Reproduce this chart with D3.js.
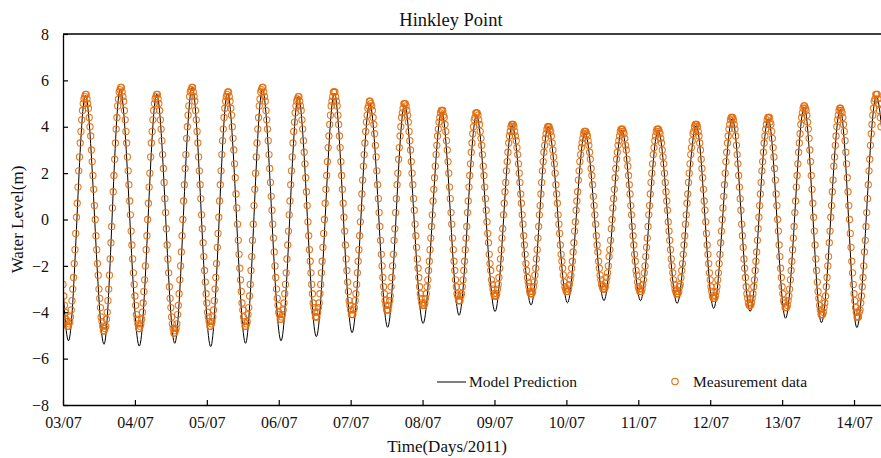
<!DOCTYPE html>
<html>
<head>
<meta charset="utf-8">
<script src="https://cdn.jsdelivr.net/npm/d3@7"></script>
<style>
  body { margin: 0; background: #ffffff; }
  svg text { font-family: "Liberation Serif", "Times New Roman", serif; fill: #111; }
</style>
</head>
<body>
<svg id="chart" width="881" height="458"></svg>
<script>
// Axis labels
const dayLabels = ["03/07","04/07","05/07","06/07","07/07","08/07","09/07","10/07","11/07","12/07","13/07","14/07"];
const levelTicks = [-8, -6, -4, -2, 0, 2, 4, 6, 8];

// Model prediction: successive low / high waters (hours after 03/07 00:00, metres)
const modelLowHours  = [-10.2, 1.84, 13.69, 25.47, 37.29, 49.30, 60.92, 72.77, 84.55, 96.47, 108.35, 120.17, 132.18, 144.20, 156.22, 168.37, 180.55, 192.74, 204.96, 217.14, 229.32, 241.14, 253.12, 264.94, 277.0];
const modelLowLevels = [-5.1, -5.23, -5.38, -5.46, -5.34, -5.48, -5.34, -5.23, -5.05, -4.88, -4.65, -4.48, -4.13, -3.97, -3.69, -3.59, -3.50, -3.50, -3.62, -3.83, -3.97, -4.26, -4.45, -4.66, -4.9];
const modelHighHours  = [-4.3, 7.48, 19.09, 31.28, 43.09, 54.91, 66.56, 78.54, 90.56, 102.38, 113.99, 126.38, 137.99, 149.9, 161.9, 174.2, 186.50, 198.61, 211.34, 223.36, 235.38, 247.39, 259.41, 271.43];
const modelHighLevels = [5.3, 5.35, 5.6, 5.4, 5.7, 5.45, 5.6, 5.3, 5.45, 5.0, 4.95, 4.65, 4.5, 4.05, 4.0, 3.75, 3.85, 3.85, 4.05, 4.35, 4.35, 4.85, 4.75, 5.3];

// Measured water level, decimetres, one reading every 15 minutes from 03/07 00:00
const measuredStepMinutes = 15;
const measuredDm = [
  -28,-33,-37,-40,-43,-44,-46,-46,
  -45,-44,-42,-39,-35,-30,-25,-19,-13,-6,1,7,14,21,27,33,38,43,47,50,52,53,54,
  54,52,50,48,44,40,36,30,25,19,13,6,0,-7,-13,-19,-24,-30,-34,-38,-42,-44,-46,-48,-48,
  -47,-46,-43,-40,-35,-30,-24,-17,-10,-3,5,12,19,26,33,39,44,49,52,55,56,57,
  57,55,53,51,47,43,38,33,27,21,15,8,2,-5,-11,-17,-23,-28,-33,-37,-41,-43,-45,-47,-47,
  -46,-45,-43,-40,-36,-31,-26,-20,-13,-7,0,7,14,20,27,33,38,43,47,50,52,53,54,
  54,52,50,47,43,39,34,28,22,16,9,3,-4,-11,-17,-23,-29,-34,-38,-42,-45,-47,-49,-49,
  -48,-47,-45,-41,-37,-32,-26,-20,-14,-7,0,8,15,22,28,35,40,45,49,53,55,56,57,
  57,55,53,51,47,43,38,33,27,21,15,9,2,-4,-10,-16,-22,-27,-32,-36,-40,-42,-44,-46,-46,
  -45,-44,-42,-39,-35,-30,-25,-19,-12,-6,1,8,15,21,28,34,39,44,48,51,53,54,55,
  55,53,51,48,45,40,35,30,24,18,11,5,-2,-9,-15,-21,-26,-31,-36,-39,-42,-44,-46,-46,
  -45,-44,-41,-38,-33,-28,-22,-16,-9,-2,6,13,20,27,33,39,44,49,52,55,56,57,
  57,55,53,51,47,43,39,34,28,22,16,10,4,-2,-8,-14,-20,-25,-30,-34,-37,-40,-41,-43,-43,
  -42,-41,-39,-36,-32,-28,-23,-17,-11,-5,2,8,15,21,27,33,38,42,46,49,51,52,53,
  53,51,49,47,43,39,34,29,24,18,12,6,-1,-7,-13,-18,-23,-28,-32,-36,-38,-40,-42,-42,
  -42,-40,-38,-36,-32,-28,-23,-18,-12,-6,0,7,13,19,25,31,36,41,45,49,51,53,55,55,
  55,53,51,49,45,41,36,31,25,19,13,7,1,-5,-11,-17,-22,-27,-31,-35,-37,-39,-41,-41,
  -41,-39,-38,-35,-32,-28,-23,-18,-13,-7,-1,5,11,17,23,28,33,38,42,45,48,49,51,51,
  50,49,47,44,41,37,32,27,21,15,9,3,-3,-9,-15,-20,-25,-29,-32,-35,-37,-39,-39,
  -39,-37,-35,-33,-29,-25,-20,-15,-9,-4,3,9,15,20,26,31,36,40,44,46,48,50,50,
  50,49,47,45,42,38,34,30,25,20,15,9,4,-2,-7,-12,-17,-21,-25,-29,-32,-34,-36,-37,-37,
  -37,-36,-34,-32,-29,-26,-22,-18,-13,-8,-3,2,8,13,18,23,28,32,36,39,42,44,46,47,47,
  47,45,44,41,38,34,30,25,20,14,9,3,-2,-8,-13,-18,-22,-26,-29,-32,-33,-35,-35,
  -35,-33,-32,-29,-26,-22,-18,-13,-8,-3,3,8,14,19,24,29,33,37,40,43,44,46,46,
  46,45,43,41,38,35,32,28,23,19,14,9,4,-1,-6,-10,-15,-19,-22,-26,-28,-30,-32,-33,-33,
  -33,-32,-30,-28,-25,-21,-17,-13,-8,-4,2,7,12,16,21,25,29,33,36,38,40,41,41,
  41,40,38,36,34,31,28,24,20,16,11,7,2,-2,-7,-11,-15,-19,-22,-25,-27,-29,-31,-32,-32,
  -32,-31,-29,-27,-24,-21,-17,-13,-8,-3,2,6,11,16,21,25,29,32,35,37,39,40,40,
  40,39,38,36,33,30,27,24,20,15,11,7,2,-2,-6,-11,-15,-18,-21,-24,-27,-29,-30,-31,-31,
  -31,-30,-28,-26,-24,-21,-18,-14,-10,-5,-1,4,8,12,17,21,25,28,31,33,35,37,38,38,
  38,37,36,34,32,29,26,22,19,15,10,6,2,-2,-7,-11,-14,-18,-21,-24,-26,-28,-29,-30,-30,
  -30,-29,-27,-25,-23,-20,-16,-13,-9,-4,0,5,9,13,18,22,26,29,32,34,36,38,39,39,
  39,38,37,35,32,30,26,23,19,15,11,6,2,-3,-7,-11,-15,-18,-22,-24,-27,-29,-30,-31,-31,
  -31,-30,-28,-26,-23,-20,-16,-12,-8,-3,2,6,11,16,20,24,28,31,34,36,38,39,39,
  39,38,37,35,33,30,27,24,20,16,12,8,4,-1,-5,-9,-13,-17,-20,-23,-26,-28,-30,-31,-32,-32,
  -32,-31,-29,-28,-25,-22,-19,-15,-11,-7,-2,2,7,11,16,20,24,28,31,34,37,38,40,41,41,
  41,40,38,36,33,30,26,22,18,13,8,4,-1,-6,-11,-15,-19,-23,-26,-29,-31,-33,-34,-34,
  -34,-33,-31,-29,-26,-23,-19,-15,-10,-5,0,5,10,15,20,25,29,33,36,39,41,43,44,44,
  44,43,41,39,36,32,28,24,19,14,9,4,-2,-7,-12,-17,-21,-25,-29,-32,-34,-36,-37,-37,
  -37,-36,-34,-32,-29,-26,-22,-18,-14,-9,-4,1,6,11,16,21,25,29,33,36,39,41,43,44,44,
  44,42,41,38,35,31,27,22,17,11,6,0,-5,-11,-16,-21,-25,-29,-32,-35,-36,-38,-38,
  -38,-37,-35,-33,-30,-26,-22,-18,-13,-8,-3,3,8,14,19,24,29,33,37,41,44,46,48,49,49,
  48,47,45,42,39,35,30,25,19,13,7,1,-5,-11,-17,-22,-27,-31,-34,-37,-39,-41,-41,
  -41,-40,-38,-36,-33,-29,-25,-20,-16,-10,-5,1,6,12,17,23,27,32,36,40,43,45,47,48,48,
  47,46,44,41,38,34,29,24,18,12,6,0,-6,-12,-18,-23,-28,-32,-35,-38,-40,-42,-42,
  -42,-40,-39,-36,-33,-29,-25,-20,-14,-9,-3,3,9,15,21,26,32,37,41,45,48,51,52,54,54,
  54,52,50,47,44,40
];

const svg = d3.select("#chart");
const margin = { left: 63, right: 0, top: 34, bottom: 53 };
const W = 881, H = 458;

const t0 = Date.UTC(2011, 6, 3);
const hourToDate = h => new Date(t0 + h * 3600e3);

const x = d3.scaleUtc()
  .domain([hourToDate(0), hourToDate(273)])
  .range([margin.left, W - margin.right]);
const y = d3.scaleLinear()
  .domain([-8, 8])
  .range([H - margin.bottom, margin.top]);

svg.append("defs").append("clipPath").attr("id", "plotClip")
  .append("rect")
  .attr("x", margin.left).attr("y", margin.top)
  .attr("width", W - margin.left - margin.right)
  .attr("height", H - margin.top - margin.bottom);

// Model series: lows and highs merged in time order
const model = [];
modelLowHours.forEach((h, i) => model.push({ h, v: modelLowLevels[i] }));
modelHighHours.forEach((h, i) => model.push({ h, v: modelHighLevels[i] }));
model.sort((a, b) => a.h - b.h);

// Measured series
const measured = measuredDm.map((dm, i) => ({
  h: i * measuredStepMinutes / 60,
  v: dm / 10
}));

const plot = svg.append("g").attr("clip-path", "url(#plotClip)");

plot.append("path")
  .datum(model)
  .attr("fill", "none")
  .attr("stroke", "#000")
  .attr("stroke-width", 1)
  .attr("d", d3.line()
    .x(d => x(hourToDate(d.h)))
    .y(d => y(d.v))
    .curve(d3.curveMonotoneX));

plot.append("g")
  .selectAll("circle")
  .data(measured)
  .join("circle")
  .attr("cx", d => x(hourToDate(d.h)))
  .attr("cy", d => y(d.v))
  .attr("r", 3.1)
  .attr("fill", "none")
  .attr("stroke", "#E46C0A")
  .attr("stroke-opacity", 0.9)
  .attr("stroke-width", 1.1);

// Axes
const dayTicks = dayLabels.map((_, i) => hourToDate(24 * i));
const xAxis = d3.axisBottom(x)
  .tickValues(dayTicks)
  .tickFormat((d, i) => dayLabels[i])
  .tickSizeInner(-5).tickSizeOuter(0).tickPadding(12);
const gx = svg.append("g")
  .attr("transform", `translate(0,${H - margin.bottom})`)
  .call(xAxis);

const yAxis = d3.axisLeft(y)
  .tickValues(levelTicks)
  .tickFormat(d3.format("d"))
  .tickSizeInner(-5).tickSizeOuter(0).tickPadding(14);
const gy = svg.append("g")
  .attr("transform", `translate(${margin.left},0)`)
  .call(yAxis);

[gx, gy].forEach(g => {
  g.select(".domain").attr("stroke", "#000").attr("stroke-width", 1.3);
  g.selectAll(".tick line").attr("stroke", "#000").attr("stroke-width", 1.2);
  g.selectAll(".tick text")
    .attr("font-family", "'Liberation Serif', 'Times New Roman', serif")
    .attr("font-size", 16).attr("fill", "#111");
});

// Top frame line
svg.append("line")
  .attr("x1", margin.left).attr("x2", W)
  .attr("y1", margin.top).attr("y2", margin.top)
  .attr("stroke", "#000").attr("stroke-width", 1.3);

// Titles
svg.append("text")
  .attr("x", 451).attr("y", 26)
  .attr("text-anchor", "middle")
  .attr("font-size", 18.5)
  .text("Hinkley Point");

svg.append("text")
  .attr("x", 447).attr("y", 452)
  .attr("text-anchor", "middle")
  .attr("font-size", 17)
  .text("Time(Days/2011)");

svg.append("text")
  .attr("transform", `translate(23,${y(0)}) rotate(-90)`)
  .attr("text-anchor", "middle")
  .attr("font-size", 17)
  .text("Water Level(m)");

// Legend
const legend = svg.append("g");
legend.append("line")
  .attr("x1", 437).attr("x2", 466).attr("y1", 382).attr("y2", 382)
  .attr("stroke", "#000").attr("stroke-width", 1);
legend.append("text")
  .attr("x", 469).attr("y", 387).attr("font-size", 15.5)
  .text("Model Prediction");
legend.append("circle")
  .attr("cx", 675).attr("cy", 381.5).attr("r", 3.2)
  .attr("fill", "none").attr("stroke", "#E46C0A").attr("stroke-width", 1.1);
legend.append("text")
  .attr("x", 693).attr("y", 387).attr("font-size", 15.5)
  .text("Measurement data");
</script>
</body>
</html>
